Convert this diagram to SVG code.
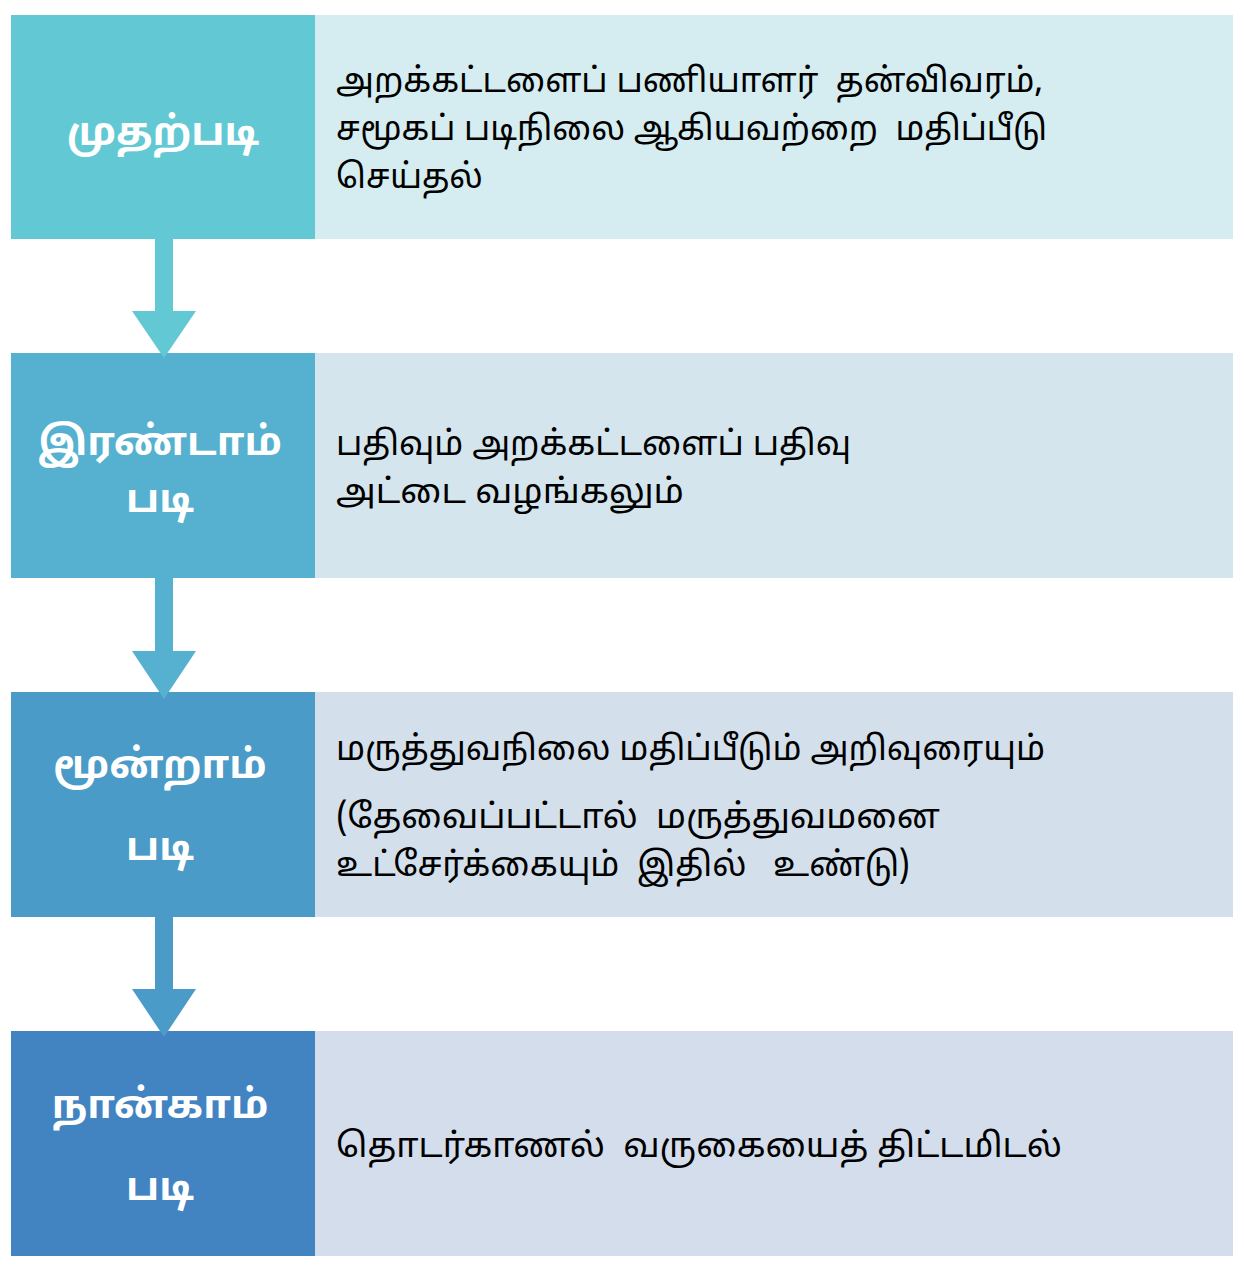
<svg xmlns="http://www.w3.org/2000/svg" width="1244" height="1266" viewBox="0 0 1244 1266">
<style>
.t{font-family:"Noto Sans Tamil","Noto Sans","Lohit Tamil","Noto Sans CJK JP",sans-serif;white-space:pre;}
.h{font-size:40px;font-weight:bold;fill:#ffffff;text-anchor:middle;}
.b{font-size:34px;fill:#000000;}
</style>
<rect width="1244" height="1266" fill="#ffffff"/>
<g id="step1">
<rect x="11" y="15" width="304" height="224" fill="#62C9D4"/>
<rect x="315" y="15" width="918" height="224" fill="#D5EDF0"/>
<text class="t h" x="163" y="145">முதற்படி</text>
<text class="t b" x="336" y="92" textLength="707" lengthAdjust="spacingAndGlyphs">அறக்கட்டளைப் பணியாளர்  தன்விவரம்,</text>
<text class="t b" x="336" y="140" textLength="711" lengthAdjust="spacingAndGlyphs">சமூகப் படிநிலை ஆகியவற்றை  மதிப்பீடு</text>
<text class="t b" x="336" y="188" textLength="147" lengthAdjust="spacingAndGlyphs">செய்தல்</text>
</g>
<g id="step2">
<rect x="11" y="353" width="304" height="225" fill="#55B1CF"/>
<rect x="315" y="353" width="918" height="225" fill="#D4E5EE"/>
<text class="t h" x="160" y="455">இரண்டாம்</text>
<text class="t h" x="160" y="512">படி</text>
<text class="t b" x="336" y="455" textLength="515" lengthAdjust="spacingAndGlyphs">பதிவும் அறக்கட்டளைப் பதிவு</text>
<text class="t b" x="336" y="503" textLength="348" lengthAdjust="spacingAndGlyphs">அட்டை வழங்கலும்</text>
</g>
<g id="step3">
<rect x="11" y="692" width="304" height="225" fill="#4A9BC7"/>
<rect x="315" y="692" width="918" height="225" fill="#D3E0EC"/>
<text class="t h" x="160" y="778">மூன்றாம்</text>
<text class="t h" x="160" y="860">படி</text>
<text class="t b" x="336" y="760" textLength="709" lengthAdjust="spacingAndGlyphs">மருத்துவநிலை மதிப்பீடும் அறிவுரையும்</text>
<text class="t b" x="336" y="828" textLength="604" lengthAdjust="spacingAndGlyphs">(தேவைப்பட்டால்  மருத்துவமனை</text>
<text class="t b" x="336" y="876" textLength="574" lengthAdjust="spacingAndGlyphs">உட்சேர்க்கையும்  இதில்   உண்டு)</text>
</g>
<g id="step4">
<rect x="11" y="1031" width="304" height="225" fill="#4283C1"/>
<rect x="315" y="1031" width="918" height="225" fill="#D3DDEC"/>
<text class="t h" x="160" y="1118">நான்காம்</text>
<text class="t h" x="160" y="1200">படி</text>
<text class="t b" x="336" y="1157" textLength="726" lengthAdjust="spacingAndGlyphs">தொடர்காணல்  வருகையைத் திட்டமிடல்</text>
</g>
<g id="connectors">
<path d="M155 239 H173 V311 H196 L164 358 L132 311 H155 Z" fill="#62C9D4"/>
<path d="M155 578 H173 V651 H196 L164 699 L132 651 H155 Z" fill="#55B1CF"/>
<path d="M155 917 H173 V989 H196 L164 1037 L132 989 H155 Z" fill="#4A9BC7"/>
</g>
</svg>
